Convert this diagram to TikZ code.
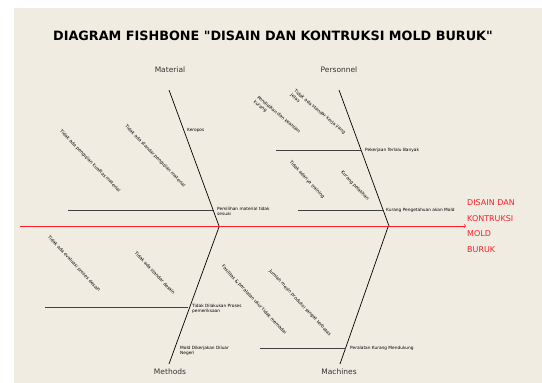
\documentclass[tikz,border=0pt]{standalone}
\usepackage{fontspec}
\setmainfont{DejaVu Sans}
\newfontfamily\titlefont{DejaVu Sans}
\definecolor{panel}{RGB}{240,236,226}
\definecolor{headred}{RGB}{255,30,40}
\begin{document}
\begin{tikzpicture}[x=1pt,y=-1pt,
  bone/.style={draw,line width=0.7pt},
  rib/.style={draw,line width=0.9pt,black!75},
  cat/.style={font=\fontsize{7.5}{9}\selectfont,text=black!80},
  cause/.style={font=\fontsize{4.3}{5.2}\selectfont,anchor=west,align=left,inner sep=1pt},
  sub/.style={font=\fontsize{4.5}{5.4}\selectfont,align=left,inner sep=0pt}]
\useasboundingbox (0,0) rectangle (542,383);
\fill[panel] (14,8) rectangle (542,383);

\node[font=\titlefont\bfseries\fontsize{12.8}{14}\selectfont] (title) at (273,36) {DIAGRAM FISHBONE "DISAIN DAN KONTRUKSI MOLD BURUK"};

% spine
\coordinate (tail) at (20,226);
\node[anchor=west,align=left,text=headred,font=\fontsize{8}{15.5}\selectfont,inner sep=1pt] (effect) at (466,226) {DISAIN DAN\\KONTRUKSI\\MOLD\\BURUK};
\path[draw,headred,line width=0.6pt,->] (tail) -- (effect.west);

% main bones
\coordinate (ma) at (219,226);
\coordinate (pe) at (389,226);
\coordinate (me) at (219,227);
\coordinate (mc) at (388,227);
\node[cat] (material) at (170,70) {Material};
\node[cat] (personnel) at (339,70) {Personnel};
\node[cat] (methods) at (170,372) {Methods};
\node[cat] (machines) at (339,372) {Machines};
\coordinate (maTop) at (169,90);
\coordinate (peTop) at (339,90);
\coordinate (meBot) at (169,364);
\coordinate (mcBot) at (340,364);
\path[bone] (maTop) -- (ma);
\path[bone] (peTop) -- (pe);
\path[bone] (meBot) -- (me);
\path[bone] (mcBot) -- (mc);

% ribs
\coordinate (r1) at (68,210);
\coordinate (r1e) at (213,210);
\coordinate (r2) at (276,150);
\coordinate (r2e) at (362,150);
\coordinate (r3) at (298,210);
\coordinate (r3e) at (383,210);
\coordinate (r4) at (45,307);
\coordinate (r4e) at (188,307);
\coordinate (r5) at (260,348);
\coordinate (r5e) at (346,348);
\path[rib] (r1) -- (r1e);
\path[rib] (r2) -- (r2e);
\path[rib] (r3) -- (r3e);
\path[rib] (r4) -- (r4e);
\path[rib] (r5) -- (r5e);

% causes
\node[cause] (c1) at (186,130) {Keropos};
\node[cause] (c2) at (216,211) {Pemilihan material tidak\\sesuai};
\node[cause] (c3) at (364,150) {Pekerjaan Terlalu Banyak};
\node[cause] (c4) at (385,210) {Kurang Pengetahuan akan Mold};
\node[cause] (c5) at (191,309) {Tidak Dilakukan Proses\\pemeriksaan};
\node[cause] (c6) at (179,351) {Mold Dikerjakan Diluar\\Negeri};
\node[cause] (c7) at (349,348) {Peralatan Kurang Mendukung};

% sub causes
\node[sub,rotate=-46] (s1) at (90,161) {Tidak ada pengujian kualitas material};
\node[sub,rotate=-46] (s2) at (155,156) {Tidak ada standar pengujian material};
\node[sub,rotate=-40] (s3) at (277,117) {Pendidikan dan keahlian\\kurang};
\node[sub,rotate=-40] (s4) at (318,114) {Tidak ada standar kerja yang\\jelas};
\node[sub,rotate=-47] (s5) at (307,180) {Tidak adanya training};
\node[sub,rotate=-47] (s6) at (355,186) {Kurang pelatihan};
\node[sub,rotate=-47] (s7) at (74,264) {Tidak ada evaluasi proses desain};
\node[sub,rotate=-47] (s8) at (155,273) {Tidak ada standar desain};
\node[sub,rotate=-47] (s9) at (254,300) {Fasilitas \& peralatan ukur tidak memadai};
\node[sub,rotate=-47] (s10) at (300,303) {Jumlah mesin produksi sangat terbatas};
\end{tikzpicture}
\end{document}
